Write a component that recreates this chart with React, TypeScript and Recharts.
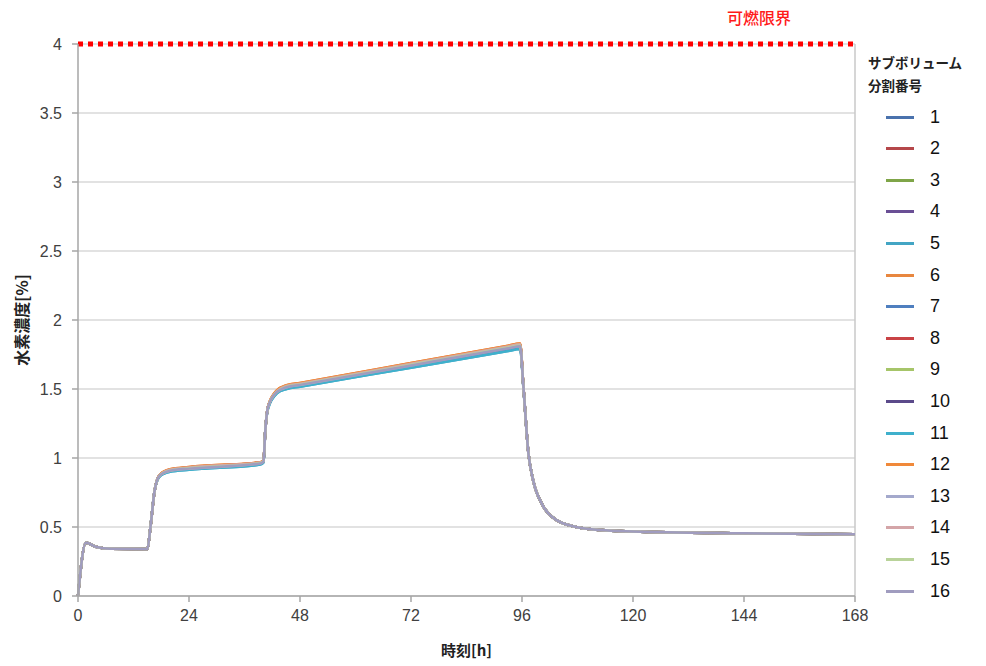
import React from 'react';
import { LineChart, Line, XAxis, YAxis, CartesianGrid, ReferenceLine } from 'recharts';

const hours = [0, 1.7, 4, 7, 15, 15.6, 16.6, 17.7, 19.9, 24, 39.4, 40.1, 40.5, 41.1, 43, 45.1, 48, 72, 93, 95.6, 96.3, 97.4, 98.4, 100.6, 103.5, 108.5, 113, 120, 144, 168];

const s1 = [0, 0.385, 0.355, 0.342, 0.34, 0.48, 0.77, 0.875, 0.91, 0.925, 0.962, 0.975, 1.2, 1.37, 1.48, 1.515, 1.532, 1.675, 1.8, 1.815, 1.52, 1.03, 0.84, 0.65, 0.55, 0.495, 0.478, 0.468, 0.455, 0.447];
const s2 = [0, 0.385, 0.355, 0.342, 0.34, 0.48, 0.77, 0.878, 0.915, 0.932, 0.968, 0.978, 1.2, 1.37, 1.485, 1.522, 1.539, 1.683, 1.809, 1.825, 1.52, 1.03, 0.84, 0.65, 0.55, 0.495, 0.478, 0.468, 0.455, 0.447];
const s3 = [0, 0.385, 0.355, 0.342, 0.34, 0.48, 0.77, 0.875, 0.91, 0.926, 0.963, 0.975, 1.2, 1.37, 1.48, 1.516, 1.533, 1.675, 1.8, 1.815, 1.52, 1.03, 0.84, 0.65, 0.55, 0.495, 0.478, 0.468, 0.455, 0.447];
const s4 = [0, 0.385, 0.355, 0.342, 0.34, 0.48, 0.77, 0.874, 0.908, 0.922, 0.96, 0.974, 1.2, 1.37, 1.478, 1.512, 1.529, 1.671, 1.795, 1.81, 1.52, 1.03, 0.84, 0.65, 0.55, 0.495, 0.478, 0.468, 0.455, 0.447];
const s5 = [0, 0.385, 0.355, 0.342, 0.34, 0.48, 0.77, 0.868, 0.9, 0.915, 0.952, 0.968, 1.2, 1.36, 1.468, 1.5, 1.517, 1.654, 1.775, 1.79, 1.51, 1.03, 0.84, 0.65, 0.55, 0.495, 0.478, 0.468, 0.455, 0.447];
const s6 = [0, 0.385, 0.355, 0.342, 0.34, 0.48, 0.77, 0.88, 0.918, 0.935, 0.97, 0.98, 1.2, 1.375, 1.49, 1.527, 1.544, 1.688, 1.814, 1.83, 1.52, 1.03, 0.84, 0.65, 0.55, 0.495, 0.478, 0.468, 0.455, 0.447];
const s7 = [0, 0.385, 0.355, 0.342, 0.34, 0.48, 0.77, 0.873, 0.906, 0.92, 0.958, 0.972, 1.2, 1.368, 1.476, 1.51, 1.527, 1.667, 1.79, 1.805, 1.52, 1.03, 0.84, 0.65, 0.55, 0.495, 0.478, 0.468, 0.455, 0.447];
const s8 = [0, 0.385, 0.355, 0.342, 0.34, 0.48, 0.77, 0.878, 0.915, 0.932, 0.968, 0.978, 1.2, 1.372, 1.485, 1.522, 1.539, 1.683, 1.809, 1.825, 1.52, 1.03, 0.84, 0.65, 0.55, 0.495, 0.478, 0.468, 0.455, 0.447];
const s9 = [0, 0.385, 0.355, 0.342, 0.34, 0.48, 0.77, 0.875, 0.91, 0.926, 0.963, 0.975, 1.2, 1.37, 1.48, 1.516, 1.533, 1.675, 1.8, 1.815, 1.52, 1.03, 0.84, 0.65, 0.55, 0.495, 0.478, 0.468, 0.455, 0.447];
const s10 = [0, 0.385, 0.355, 0.342, 0.34, 0.48, 0.77, 0.874, 0.908, 0.922, 0.96, 0.974, 1.2, 1.37, 1.478, 1.512, 1.529, 1.671, 1.795, 1.81, 1.52, 1.03, 0.84, 0.65, 0.55, 0.495, 0.478, 0.468, 0.455, 0.447];
const s11 = [0, 0.385, 0.355, 0.342, 0.34, 0.48, 0.77, 0.868, 0.9, 0.915, 0.952, 0.968, 1.2, 1.36, 1.468, 1.5, 1.517, 1.654, 1.775, 1.79, 1.51, 1.03, 0.84, 0.65, 0.55, 0.495, 0.478, 0.468, 0.455, 0.447];
const s12 = [0, 0.385, 0.355, 0.342, 0.34, 0.48, 0.77, 0.88, 0.918, 0.935, 0.97, 0.98, 1.2, 1.375, 1.49, 1.527, 1.544, 1.688, 1.814, 1.83, 1.52, 1.03, 0.84, 0.65, 0.55, 0.495, 0.478, 0.468, 0.455, 0.447];
const s13 = [0, 0.385, 0.355, 0.342, 0.34, 0.48, 0.77, 0.874, 0.908, 0.922, 0.96, 0.974, 1.2, 1.37, 1.478, 1.512, 1.529, 1.671, 1.795, 1.81, 1.52, 1.03, 0.84, 0.65, 0.55, 0.495, 0.478, 0.468, 0.455, 0.447];
const s14 = [0, 0.385, 0.355, 0.342, 0.34, 0.48, 0.77, 0.878, 0.915, 0.932, 0.968, 0.978, 1.2, 1.372, 1.485, 1.522, 1.539, 1.683, 1.809, 1.825, 1.52, 1.03, 0.84, 0.65, 0.55, 0.495, 0.478, 0.468, 0.455, 0.447];
const s15 = [0, 0.385, 0.355, 0.342, 0.34, 0.48, 0.77, 0.875, 0.91, 0.926, 0.963, 0.975, 1.2, 1.37, 1.48, 1.516, 1.533, 1.675, 1.8, 1.815, 1.52, 1.03, 0.84, 0.65, 0.55, 0.495, 0.478, 0.468, 0.455, 0.447];
const s16 = [0, 0.385, 0.355, 0.342, 0.34, 0.48, 0.77, 0.874, 0.908, 0.923, 0.96, 0.974, 1.2, 1.37, 1.479, 1.513, 1.53, 1.671, 1.795, 1.81, 1.52, 1.03, 0.84, 0.65, 0.55, 0.495, 0.478, 0.468, 0.455, 0.447];

const seriesValues = [s1, s2, s3, s4, s5, s6, s7, s8, s9, s10, s11, s12, s13, s14, s15, s16];
const seriesNames = ['1', '2', '3', '4', '5', '6', '7', '8', '9', '10', '11', '12', '13', '14', '15', '16'];
const seriesColors = ['#4a72ad', '#b5474a', '#7fa548', '#6a4f95', '#43a5c4', '#e8873f', '#4f7fbf', '#c94346', '#a6c569', '#5b4a8a', '#3fb0cc', '#f0893a', '#a4a9cc', '#d4a5a8', '#b9d39a', '#a09cbf'];

const xTicks = [0, 24, 48, 72, 96, 120, 144, 168];
const yTicks = [0, 0.5, 1, 1.5, 2, 2.5, 3, 3.5, 4];

const limitValue = 4;
const limitLabel = '可燃限界';
const xTitle = '時刻[h]';
const yTitle = '水素濃度[%]';
const legendTitle1 = 'サブボリューム';
const legendTitle2 = '分割番号';

const data = hours.map((h, i) => {
  const row: any = { h };
  seriesValues.forEach((vals, k) => {
    row['s' + (k + 1)] = vals[i];
  });
  return row;
});

const tickFont = { fontFamily: 'Liberation Sans, Arial, sans-serif', fontSize: 16, fill: '#404040' };
const cjk = 'Noto Sans CJK JP, sans-serif';

export default function App() {
  return (
    <div style={{ position: 'absolute', left: 0, top: 0, width: 986, height: 666, background: '#fff' }}>
      <LineChart width={986} height={666} data={data} margin={{ top: 44, right: 131, bottom: 20, left: 0 }}>
        <CartesianGrid vertical={false} stroke="#d9d9d9" strokeWidth={1.5} />
        <XAxis
          dataKey="h"
          type="number"
          domain={[0, 168]}
          ticks={xTicks}
          height={50}
          tickSize={6}
          tickMargin={8}
          stroke="#a6a6a6"
          strokeWidth={1.5}
          tick={tickFont}
          label={{ value: xTitle, position: 'insideBottom', offset: -10, style: { fontFamily: cjk, fontWeight: 700, fontSize: 15, fill: '#222' } }}
        />
        <YAxis
          type="number"
          domain={[0, 4]}
          ticks={yTicks}
          width={78}
          tickSize={6}
          tickMargin={10}
          stroke="#a6a6a6"
          strokeWidth={1.5}
          tick={tickFont}
          label={{ value: yTitle, angle: -90, position: 'insideLeft', offset: 22, style: { fontFamily: cjk, fontWeight: 700, fontSize: 16, fill: '#222', textAnchor: 'middle' } }}
        />
        <ReferenceLine x={168} stroke="#c8c8c8" strokeWidth={1.5} />
        {seriesValues.map((_, k) => (
          <Line
            key={k}
            dataKey={'s' + (k + 1)}
            name={seriesNames[k]}
            stroke={seriesColors[k]}
            strokeWidth={2.5}
            dot={false}
            type="monotone"
            isAnimationActive={false}
          />
        ))}
        <ReferenceLine
          y={limitValue}
          stroke="#ff0000"
          strokeWidth={5}
          strokeDasharray="5 5"
          label={(props: any) => {
            const vb = props.viewBox || {};
            return (
              <text x={(vb.x || 0) + 649} y={(vb.y || 0) - 27} fill="#ff1a1a" fontSize={16} fontWeight={500} fontFamily={cjk} dominantBaseline="central">
                {limitLabel}
              </text>
            );
          }}
        />
      </LineChart>
      <div style={{ position: 'absolute', left: 868, top: 51, fontFamily: cjk, fontWeight: 700, fontSize: 13.5, lineHeight: '23px', color: '#222' }}>
        <div>{legendTitle1}</div>
        <div>{legendTitle2}</div>
      </div>
      {seriesNames.map((n, k) => (
        <div key={n} style={{ position: 'absolute', left: 886, top: 117 + k * 31.6 - 12, height: 24, display: 'flex', alignItems: 'center' }}>
          <div style={{ width: 28, height: 3, background: seriesColors[k] }} />
          <span style={{ marginLeft: 16, fontFamily: 'Liberation Sans, Arial, sans-serif', fontSize: 18, color: '#111' }}>{n}</span>
        </div>
      ))}
    </div>
  );
}
